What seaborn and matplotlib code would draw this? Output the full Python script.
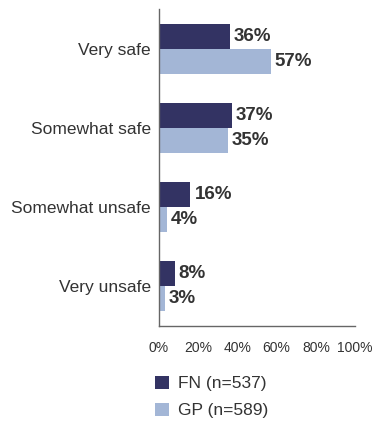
import matplotlib
matplotlib.use("Agg")
import matplotlib.pyplot as plt
import seaborn as sns
import pandas as pd
from matplotlib.patches import Patch

categories = ["Very safe", "Somewhat safe", "Somewhat unsafe", "Very unsafe"]
fn_values = [36, 37, 16, 8]
gp_values = [57, 35, 4, 3]
series_names = ["FN (n=537)", "GP (n=589)"]
x_ticks = [0, 20, 40, 60, 80, 100]
x_tick_labels = ["0%", "20%", "40%", "60%", "80%", "100%"]

colors = ["#333363", "#a3b6d6"]

sns.set_theme(style="white")
plt.rcParams["font.family"] = ["Liberation Sans", "DejaVu Sans"]

df = pd.DataFrame({
    "category": categories * 2,
    "value": fn_values + gp_values,
    "series": [series_names[0]] * len(categories) + [series_names[1]] * len(categories),
})

fig = plt.figure(figsize=(3.72, 4.22), dpi=100)
ax = fig.add_axes([0.4274, 0.2275, 0.527, 0.751])

sns.barplot(data=df, y="category", x="value", hue="series", order=categories,
            hue_order=series_names, palette=colors, orient="h", width=0.63,
            saturation=1, linewidth=0, ax=ax, legend=False)

for cont in ax.containers:
    ax.bar_label(cont, labels=[f"{v:.0f}%" for v in cont.datavalues], padding=3,
                 fontsize=13.5, fontweight="bold", color="#333333")

ax.set_xlim(0, 100)
ax.set_ylim(3.5, -0.5)
ax.set_xticks(x_ticks)
ax.set_xticklabels(x_tick_labels, fontsize=10, color="#333333")
ax.tick_params(axis="x", direction="out", length=5, width=0.8, color="#555555", pad=6)
ax.tick_params(axis="y", length=0, labelsize=12.5, labelcolor="#333333", pad=6)
ax.set_xlabel("")
ax.set_ylabel("")
for side in ["top", "right"]:
    ax.spines[side].set_visible(False)
for side in ["left", "bottom"]:
    ax.spines[side].set_color("#666666")
    ax.spines[side].set_linewidth(1.0)

handles = [Patch(facecolor=c, edgecolor="none") for c in colors]
fig.legend(handles, series_names, loc="upper left", bbox_to_anchor=(0.376, 0.147),
           frameon=False, fontsize=12.5, handlelength=0.8, handleheight=0.8,
           handletextpad=0.5, labelspacing=0.65, labelcolor="#333333")

fig.savefig("out.png", dpi=100)
